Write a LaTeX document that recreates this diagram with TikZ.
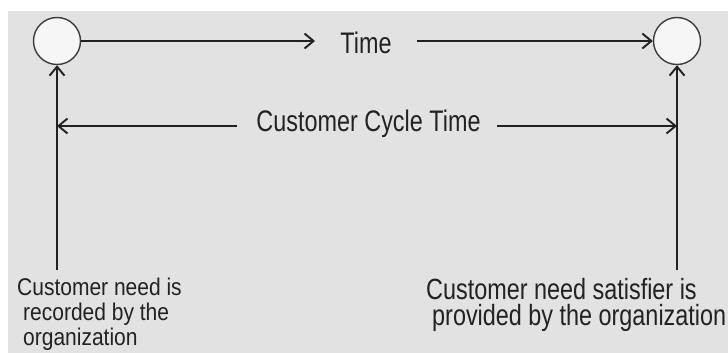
\documentclass[tikz,border=0pt]{standalone}
\usepackage{fontspec}
\setmainfont{Liberation Sans}
\usetikzlibrary{arrows.meta}
\definecolor{bg}{HTML}{E2E2E2}
\definecolor{circfill}{HTML}{F6F6F6}
\definecolor{ink}{HTML}{222222}
\definecolor{circline}{HTML}{3C3C3C}
\begin{document}
\begin{tikzpicture}[x=1pt,y=-1pt,
  circ/.style={circle,draw=circline,line width=1.4pt,fill=circfill,minimum size=47pt,inner sep=0pt},
  arr/.style={draw=ink,line width=1.3pt,-{Straight Barb[length=9pt,width=15pt,line width=1.9pt]}},
  lbl/.style={font=\fontsize{23.4}{24}\selectfont,text=ink,inner sep=0pt,yscale=1.27},
  small/.style={font=\fontsize{21}{22}\selectfont,text=ink,inner sep=0pt,yscale=1.15,anchor=base west},
  big/.style={font=\fontsize{23.4}{24}\selectfont,text=ink,inner sep=0pt,yscale=1.25,anchor=base west}]
\useasboundingbox (0,0) rectangle (728,353);
\fill[bg] (8,11) rectangle (728,353);
% circles
\node[circ] (c1) at (57,41) {};
\node[circ] (c2) at (677,41) {};
% time arrow
\node[lbl,anchor=base] (time) at (366,53) {Time};
\coordinate (t1) at (315,41);
\coordinate (t2) at (417,41);
\draw[arr] (c1.east) -- (t1);
\draw[arr] (t2) -- (c2.west);
% vertical arrows
\coordinate (v1) at (57,270);
\coordinate (v2) at (677,270);
\draw[arr] (v1) -- (c1.south);
\draw[arr] (v2) -- (c2.south);
% cycle time arrow
\node[lbl,anchor=base] (cycle) at (368.5,131) {Customer Cycle Time};
\coordinate (cl) at (237,126);
\coordinate (cr) at (497,126);
\draw[arr] (cl) -- (cl -| v1);
\draw[arr] (cr) -- (cr -| v2);
% labels
\node[small] (need1) at (17,295) {Customer need is};
\node[small] (need2) at (23,320) {recorded by the};
\node[small] (need3) at (23,345) {organization};
\node[big] (sat1) at (426,299) {Customer need satisfier is};
\node[big] (sat2) at (432,325) {provided by the organization};
\end{tikzpicture}
\end{document}
